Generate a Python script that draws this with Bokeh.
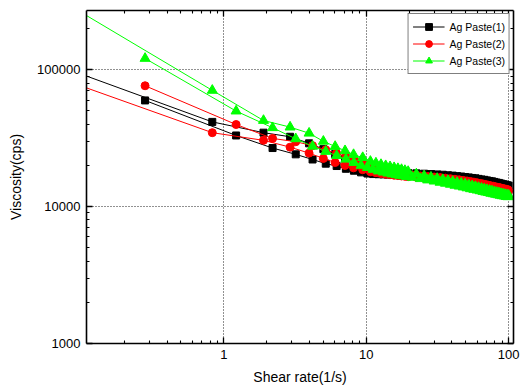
from bokeh.plotting import figure
from bokeh.models import Range1d, LogAxis, FixedTicker, Legend, LegendItem, NumeralTickFormatter
from bokeh.embed import file_html
from bokeh.resources import INLINE

# shear rates (1/s): ramp starting at 0.28 and ramp reaching below 0.11
x_ramp_a = [0.28, 1.22, 2.2, 3.2, 4.2, 5.2, 6.2, 7.2, 8.2, 9.2,
            10.2, 11.2, 12.2, 13.2, 14.2, 15.2, 16.2, 17.2, 18.2, 19.2,
            21, 24, 27, 30, 33, 36, 39, 42, 45, 48,
            51, 54, 57, 60, 63, 66, 69, 72, 75, 78,
            81, 84, 87, 90, 93, 96, 99]
x_ramp_b = [0.1, 0.83, 1.9, 2.92, 3.97, 5.0, 6.05, 7.1, 8.15, 9.45,
            10.7, 11.7, 12.7, 13.7, 14.7, 15.7, 16.7, 17.7, 18.7, 19.7,
            22.5, 25.5, 28.5, 31.5, 34.5, 37.5, 40.5, 43.5, 46.5, 49.5,
            52.5, 55.5, 58.5, 61.5, 64.5, 67.5, 70.5, 73.5, 76.5, 79.5,
            82.5, 85.5, 88.5, 91.5, 94.5, 97.5, 100]

# viscosity (cps)
paste1_a = [59700, 33100, 26800, 24100, 22100, 20600, 19800, 18900, 18300, 17800,
            17450, 17300, 17250, 17200, 17150, 17150, 17100, 17100, 17100, 17050,
            17050, 16950, 16850, 16750, 16650, 16500, 16400, 16300, 16150, 16000,
            15900, 15800, 15650, 15500, 15400, 15250, 15150, 15000, 14900, 14750,
            14600, 14500, 14400, 14250, 14150, 14050, 14000]
paste1_b = [92800, 41600, 34700, 32400, 29000, 26300, 24200, 22400, 21000, 19900,
            18900, 18500, 18200, 18000, 17900, 17800, 17750, 17700, 17650, 17600,
            17500, 17400, 17300, 17200, 17100, 16950, 16850, 16700, 16600, 16450,
            16350, 16200, 16100, 15950, 15800, 15700, 15550, 15400, 15300, 15150,
            15000, 14900, 14750, 14600, 14500, 14350, 14250]
paste2_a = [76400, 39800, 31500, 29800, 27900, 26000, 24500, 23200, 22100, 21200,
            20400, 19700, 19100, 18600, 18200, 17900, 17650, 17450, 17250, 17100,
            16950, 16750, 16600, 16450, 16300, 16150, 16000, 15850, 15700, 15550,
            15400, 15250, 15100, 14950, 14800, 14650, 14500, 14350, 14200, 14100,
            13950, 13850, 13750, 13600, 13500, 13400, 13300]
paste2_b = [76000, 34700, 30500, 27200, 24600, 22500, 21000, 20000, 19200, 18600,
            18000, 17700, 17450, 17250, 17100, 16950, 16850, 16750, 16650, 16550,
            16400, 16200, 16000, 15850, 15700, 15500, 15350, 15200, 15050, 14900,
            14750, 14600, 14450, 14300, 14200, 14100, 13950, 13850, 13750, 13650,
            13550, 13450, 13350, 13250, 13150, 13100, 13000]
paste3_a = [121000, 49900, 37700, 31300, 27600, 25300, 23600, 22200, 21000, 20000,
            19300, 18700, 18200, 17850, 17550, 17300, 17100, 16900, 16750, 16600,
            16350, 16000, 15650, 15350, 15050, 14800, 14550, 14300, 14100, 13900,
            13700, 13500, 13350, 13200, 13050, 12900, 12750, 12650, 12500, 12400,
            12300, 12200, 12100, 12000, 11950, 11850, 11800]
paste3_b = [262000, 70700, 42600, 38100, 34400, 30000, 27500, 25600, 24000, 22800,
            21400, 20800, 20300, 19900, 19550, 19250, 18950, 18650, 18350, 18050,
            17300, 16800, 16400, 16050, 15750, 15500, 15250, 15000, 14800, 14600,
            14400, 14200, 14000, 13800, 13600, 13450, 13300, 13150, 13000, 12850,
            12700, 12600, 12450, 12350, 12250, 12150, 12100]

series_names = ["Ag Paste(1)", "Ag Paste(2)", "Ag Paste(3)"]
series_colors = ["#000000", "#ff0000", "#00ff00"]
series_markers = ["square", "circle", "triangle"]
series_sizes = [7, 8, 10]

x_major = [1, 10, 100]
x_minor = [0.2, 0.3, 0.4, 0.5, 0.6, 0.7, 0.8, 0.9,
           2, 3, 4, 5, 6, 7, 8, 9, 20, 30, 40, 50, 60, 70, 80, 90]
y_major = [1000, 10000, 100000]
y_minor = [2000, 3000, 4000, 5000, 6000, 7000, 8000, 9000,
           20000, 30000, 40000, 50000, 60000, 70000, 80000, 90000, 200000]

FONT = "Liberation Sans"

p = figure(x_axis_type="log", y_axis_type="log",
           x_range=Range1d(0.1086, 108.2), y_range=Range1d(1000, 271000),
           frame_width=427, frame_height=333,
           min_border_left=86, min_border_top=10, min_border_right=10, min_border_bottom=0,
           x_axis_label="Shear rate(1/s)", y_axis_label="Viscosity(cps)",
           output_backend="svg", toolbar_location=None)
p.outline_line_color = None
p.background_fill_color = "white"
p.border_fill_color = "white"

bottom_axis = p.below[0]
left_axis = p.left[0]

xt = FixedTicker(ticks=x_major, minor_ticks=x_minor)
yt = FixedTicker(ticks=y_major, minor_ticks=y_minor)

top_axis = LogAxis()
right_axis = LogAxis()
p.add_layout(top_axis, "above")
p.add_layout(right_axis, "right")

for ax, tk in [(bottom_axis, xt), (top_axis, xt), (left_axis, yt), (right_axis, yt)]:
    ax.ticker = tk
    ax.formatter = NumeralTickFormatter(format="0")
    ax.axis_line_width = 1.6
    ax.axis_line_color = "black"
    ax.major_tick_in = 6
    ax.major_tick_out = 0
    ax.minor_tick_in = 3
    ax.minor_tick_out = 0
    ax.major_tick_line_width = 1.3
    ax.minor_tick_line_width = 1.1
    ax.major_tick_line_color = "black"
    ax.minor_tick_line_color = "black"
    ax.major_label_text_font = FONT
    ax.major_label_text_font_size = "13px"
    ax.major_label_text_color = "black"
    ax.major_label_standoff = 6
    ax.axis_label_text_font = FONT
    ax.axis_label_text_font_size = "14px"
    ax.axis_label_text_font_style = "normal"
    ax.axis_label_text_color = "black"

for ax in (top_axis, right_axis):
    ax.major_label_text_color = None
    ax.major_label_text_font_size = "1px"
    ax.major_label_standoff = 0

bottom_axis.axis_label_standoff = 7
left_axis.axis_label_standoff = 10

p.xgrid.ticker = xt
p.ygrid.ticker = yt
for g in (p.xgrid, p.ygrid):
    g.grid_line_color = "#222222"
    g.grid_line_dash = "1 2"
    g.grid_line_width = 1

ramps = [(paste1_a, paste1_b), (paste2_a, paste2_b), (paste3_a, paste3_b)]
items = []
for (va, vb), name, col, mk, sz in zip(ramps, series_names, series_colors, series_markers, series_sizes):
    p.line(x_ramp_b, vb, line_color=col, line_width=1)
    p.scatter(x_ramp_b, vb, marker=mk, size=sz, fill_color=col, line_color=col)
    la = p.line(x_ramp_a, va, line_color=col, line_width=1)
    sa = p.scatter(x_ramp_a, va, marker=mk, size=sz, fill_color=col, line_color=col)
    items.append(LegendItem(label=name, renderers=[la, sa]))

legend = Legend(items=items, location="top_right")
legend.label_text_font = FONT
legend.label_text_font_size = "10.5px"
legend.label_text_color = "black"
legend.padding = 4
legend.spacing = 0
legend.margin = 3
legend.label_height = 17
legend.glyph_height = 17
legend.glyph_width = 32
legend.label_standoff = 5
legend.border_line_color = "black"
legend.border_line_width = 1
legend.background_fill_color = "white"
legend.background_fill_alpha = 1
p.add_layout(legend)

open("out.html", "w").write(file_html(p, INLINE))
